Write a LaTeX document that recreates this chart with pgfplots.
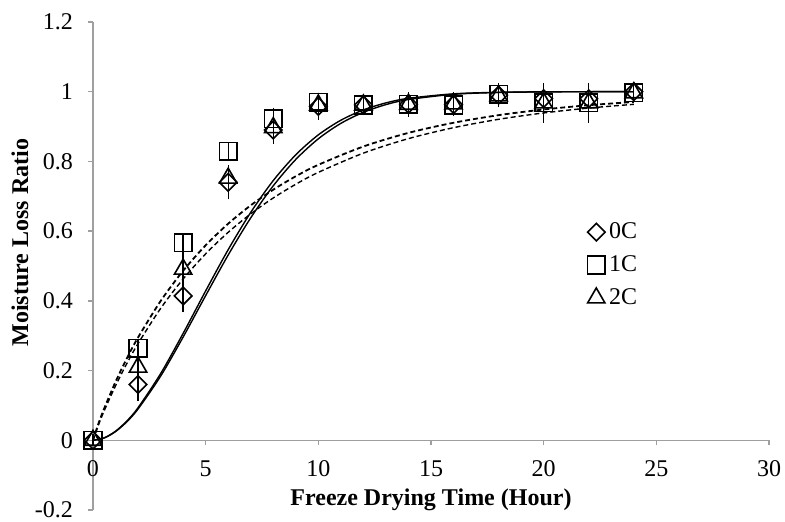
\documentclass[border=0pt]{standalone}
\usepackage{fontspec}
\setmainfont{Liberation Serif}
\usepackage{pgfplots}
\usepackage{pgfplotstable}
\pgfplotsset{compat=1.18}
\pgfplotsset{mk/.style={only marks, legend image code/.code={\draw[##1] plot coordinates {(0pt,0pt)};}}}

% t, mean moisture loss ratio, error
\pgfplotstableread{
t m e
0 0 0
2 0.160 0.030
4 0.414 0.030
6 0.740 0.032
8 0.890 0.022
10 0.958 0.022
12 0.962 0.012
14 0.964 0.018
16 0.963 0.012
18 0.990 0.018
20 0.980 0.022
22 0.980 0.022
24 1.000 0.008
}\zeroC
\pgfplotstableread{
t m e
0 0 0
2 0.264 0.010
4 0.567 0.010
6 0.829 0.010
8 0.922 0.015
10 0.970 0.010
12 0.962 0.010
14 0.964 0.010
16 0.962 0.010
18 0.992 0.010
20 0.968 0.010
22 0.968 0.010
24 0.997 0.008
}\oneC
\pgfplotstableread{
t m e
0 0 0
2 0.210 0.028
4 0.491 0.032
6 0.752 0.020
8 0.897 0.018
10 0.962 0.018
12 0.962 0.012
14 0.964 0.012
16 0.965 0.018
18 0.988 0.012
20 0.968 0.040
22 0.968 0.040
24 0.997 0.008
}\twoC

\begin{document}
\begin{tikzpicture}
\path[use as bounding box] (-46.5pt,-6pt) rectangle (346pt,255pt);
\begin{axis}[
    scale only axis, width=338pt, height=244pt,
    xmin=0, xmax=30, ymin=-0.2, ymax=1.2,
    axis x line=middle, axis y line=left,
    axis line style={draw=gray!75, line width=0.65pt, -},
    hide obscured x ticks=false, hide obscured y ticks=false,
    tick align=outside, major tick length=2.5pt,
    tick style={draw=gray!75, line width=0.65pt},
    xtick={0,5,10,15,20,25,30},
    ytick={-0.2,0,0.2,0.4,0.6,0.8,1,1.2},
    /pgf/number format/assume math mode=true,
    ticklabel style={font=\fontsize{12}{14}\selectfont},
    yticklabel style={xshift=-4pt},
    xticklabel style={yshift=-4pt},
    xlabel={Freeze Drying Time (Hour)},
    ylabel={Moisture Loss Ratio},
    label style={font=\bfseries\fontsize{12}{14}\selectfont},
    xlabel style={at={(axis description cs:0.5,0.02)}, anchor=center},
    ylabel style={at={(axis description cs:-0.108,0.548)}, anchor=center},
    clip=false,
    legend style={at={(axis description cs:0.722,0.502)}, anchor=west,
        draw=none, fill=none, font=\fontsize{12}{14}\selectfont, row sep=3pt},
    legend cell align=left,
    error bars/error bar style={black, line width=0.65pt, solid},
    error bars/error mark options={black, line width=0.65pt, mark size=3pt},
]
% fitted curves
\addplot[black, line width=0.7pt, smooth, forget plot] coordinates {
    (0,0) (0.5,0.0070) (1,0.0260) (1.5,0.0552) (2,0.0935) (3,0.1911) (4,0.3067)
    (5,0.4286) (6,0.5469) (7,0.6538) (8,0.7451) (9,0.8191) (10,0.8762) (11,0.9182)
    (12,0.9478) (13,0.9679) (14,0.9810) (16,0.9939) (18,0.9983) (20,0.9996) (22,1) (24,1)
};
\addplot[black, line width=0.7pt, smooth, forget plot] coordinates {
    (0,0) (0.5,0.0067) (1,0.0249) (1.5,0.0530) (2,0.0898) (3,0.1839) (4,0.2961)
    (5,0.4151) (6,0.5316) (7,0.6381) (8,0.7301) (9,0.8057) (10,0.8649) (11,0.9092)
    (12,0.9410) (13,0.9630) (14,0.9775) (16,0.9925) (18,0.9978) (20,0.9994) (22,1) (24,1)
};
\addplot[black, line width=0.9pt, smooth, dash pattern=on 2.5pt off 1.5pt, forget plot] coordinates {
    (0,0) (0.25,0.0493) (0.5,0.0918) (1,0.1677) (1.5,0.2348) (2,0.2950) (3,0.3994)
    (4,0.4863) (5,0.5594) (6,0.6214) (7,0.6740) (8,0.7189) (9,0.7574) (10,0.7903)
    (12,0.8428) (14,0.8819) (16,0.9109) (18,0.9327) (20,0.9490) (22,0.9613) (24,0.9706)
};
\addplot[black, line width=0.7pt, smooth, dash pattern=on 2.5pt off 1.5pt, forget plot] coordinates {
    (0,0) (0.25,0.0454) (0.5,0.0851) (1,0.1563) (1.5,0.2200) (2,0.2775) (3,0.3781)
    (4,0.4628) (5,0.5349) (6,0.5966) (7,0.6496) (8,0.6952) (9,0.7345) (10,0.7686)
    (12,0.8238) (14,0.8654) (16,0.8968) (18,0.9208) (20,0.9391) (22,0.9531) (24,0.9638)
};
% measured points
\addplot[black, mk, mark=square, mark size=3.1pt, mark options={rotate=45, line width=0.8pt},
    error bars/.cd, y dir=both, y explicit] table[x=t, y=m, y error=e] {\zeroC};
\addplot[black, mk, mark=square, mark size=4.4pt, mark options={line width=0.8pt},
    error bars/.cd, y dir=both, y explicit] table[x=t, y=m, y error=e] {\oneC};
\addplot[black, mk, mark=triangle, mark size=5pt, mark options={line width=0.8pt},
    error bars/.cd, y dir=both, y explicit] table[x=t, y=m, y error=e] {\twoC};
\legend{0C, 1C, 2C}
\end{axis}
\end{tikzpicture}
\end{document}
